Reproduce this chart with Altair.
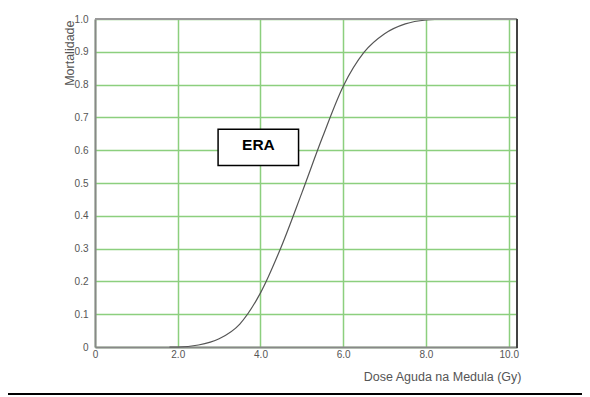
import altair as alt
import pandas as pd

# Curve
dose = [1.8, 2.0, 2.5, 3.0, 3.5, 4.0, 4.5, 5.0, 5.5, 6.0, 6.5, 7.0, 7.5, 8.0, 8.5]
mort = [0.0, 0.0, 0.006, 0.025, 0.07, 0.165, 0.305, 0.47, 0.64, 0.795, 0.898, 0.955, 0.985, 0.997, 1.0]

x_ticks = [0, 2, 4, 6, 8, 10]
y_ticks = [0, 0.1, 0.2, 0.3, 0.4, 0.5, 0.6, 0.7, 0.8, 0.9, 1.0]

# Annotation box
label_text = ["ERA"]
label_x = [3.95]
label_y = [0.616]
box_x = [2.975]
box_x2 = [4.92]
box_y = [0.664]
box_y2 = [0.553]

W, H = 422, 328
FONT = "Liberation Sans"
GRID = "#8ccf7e"

curve_df = pd.DataFrame({"dose": dose, "mort": mort})
box_df = pd.DataFrame({"x": box_x, "x2": box_x2, "y": box_y, "y2": box_y2})
lab_df = pd.DataFrame({"x": label_x, "y": label_y, "t": label_text})
one = pd.DataFrame({"a": [0]})

xscale = alt.Scale(domain=[0, 10.2], nice=False, zero=False)
yscale = alt.Scale(domain=[0, 1], nice=False)

curve = alt.Chart(curve_df).mark_line(
    color="#555555", strokeWidth=1.2, interpolate="monotone"
).encode(
    x=alt.X("dose:Q", scale=xscale, axis=alt.Axis(
        values=x_ticks, tickCount=len(x_ticks), title="Dose Aguda na Medula (Gy)",
        labelExpr="datum.value == 0 ? '0' : format(datum.value, '.1f')",
        grid=True, gridColor=GRID, gridWidth=1.5,
        labelPadding=2, labelFlush=False, labelOverlap=False,
        titleX=426, titleY=29, titleAlign="right", titleBaseline="middle",
    )),
    y=alt.Y("mort:Q", scale=yscale, axis=alt.Axis(
        values=y_ticks, tickCount=len(y_ticks), title="Mortalidade",
        labelExpr="datum.value == 0 ? '0' : format(datum.value, '.1f')",
        grid=True, gridColor=GRID, gridWidth=1.5,
        labelPadding=7, labelFlush=False, labelOverlap=False,
        titleX=-26, titleY=1, titleAlign="right", titleBaseline="middle",
        titleAngle=270,
    )),
)

box = alt.Chart(box_df).mark_rect(
    fill="white", stroke="black", strokeWidth=1.5
).encode(
    x=alt.X("x:Q", scale=xscale), x2="x2:Q",
    y=alt.Y("y:Q", scale=yscale), y2="y2:Q",
)

label = alt.Chart(lab_df).mark_text(
    font=FONT, fontSize=15.5, fontWeight="bold", color="black",
    align="center", baseline="middle"
).encode(
    x=alt.X("x:Q", scale=xscale), y=alt.Y("y:Q", scale=yscale), text="t:N"
)

top_border = alt.Chart(one).mark_rule(color="#999999", strokeWidth=2).encode(
    x=alt.value(0), x2=alt.value(W), y=alt.value(0)
)
right_border = alt.Chart(one).mark_rule(color="#444444", strokeWidth=2).encode(
    x=alt.value(W), y=alt.value(0), y2=alt.value(H + 1)
)
bottom_line = alt.Chart(one).mark_rule(color="black", strokeWidth=2).encode(
    x=alt.value(-87), x2=alt.value(W + 65), y=alt.value(375)
)

chart = alt.layer(curve, box, label, top_border, right_border, bottom_line).properties(
    width=W, height=H,
    autosize=alt.AutoSizeParams(type="none"),
    padding={"left": 87, "top": 11, "right": 65, "bottom": 50},
).configure_view(stroke=None).configure_axis(
    domainColor="#888888", domainWidth=2, ticks=False, tickSize=0,
    labelColor="#555555", labelFont=FONT, labelFontSize=10,
    titleColor="#555555", titleFont=FONT, titleFontSize=12.5, titleFontWeight="normal",
)

chart.save("out.html", embed_options={"renderer": "svg", "actions": False})
